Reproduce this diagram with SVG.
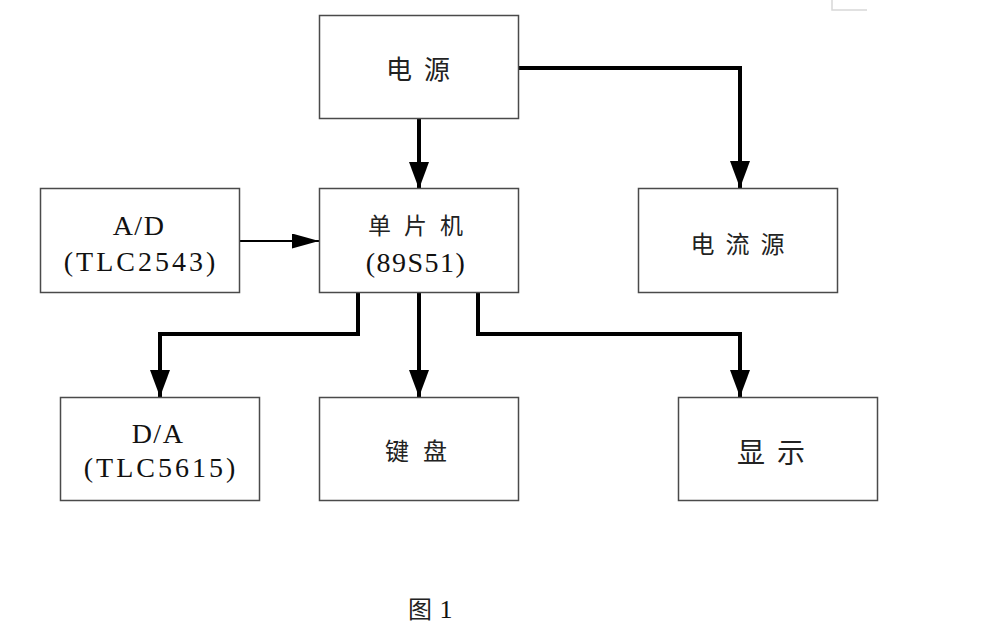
<svg xmlns="http://www.w3.org/2000/svg" width="1000" height="625" viewBox="0 0 1000 625">
<style>
.box{fill:#fff;stroke:#4a4a4a;stroke-width:1.5}
.cjk{font-family:"Noto Sans CJK SC","Noto Sans CJK JP",sans-serif;fill:#222;text-anchor:middle;dominant-baseline:central}
.lat{font-family:"Liberation Serif",serif;fill:#111;text-anchor:middle;font-size:28px}
.thick{fill:none;stroke:#000;stroke-width:4;marker-end:url(#ah)}
.thin{fill:none;stroke:#000;stroke-width:2;marker-end:url(#ahs)}
</style>
<defs>
<marker id="ah" markerUnits="userSpaceOnUse" markerWidth="28" markerHeight="22" refX="27" refY="10" orient="auto">
<path d="M0,0 L27,10 L0,20 z" fill="#000"/>
</marker>
<marker id="ahs" markerUnits="userSpaceOnUse" markerWidth="28" markerHeight="16" refX="27" refY="7.5" orient="auto">
<path d="M0,0 L27,7.5 L0,15 z" fill="#000"/>
</marker>
</defs>
<rect width="1000" height="625" fill="#fff"/>
<polyline points="832,0 832,10 867,10" fill="none" stroke="#d8d8d8" stroke-width="1.5"/>
<g id="connectors">
<path class="thick" d="M419,119 V189"/>
<path class="thick" d="M519,68 H740 V188"/>
<path class="thin" d="M240,241 H319"/>
<path class="thick" d="M358,293 V334 H160 V397"/>
<path class="thick" d="M419,293 V397"/>
<path class="thick" d="M478,293 V334 H740 V397"/>
</g>
<g id="power">
<rect class="box" x="319.5" y="15.5" width="199" height="103"/>
<text class="cjk" x="424" y="67" font-size="26" letter-spacing="12">电源</text>
</g>
<g id="mcu">
<rect class="box" x="319.5" y="188.5" width="199" height="104"/>
<text class="cjk" x="422" y="224" font-size="23" letter-spacing="13">单片机</text>
<text class="lat" x="416" y="272" letter-spacing="1.5">(89S51)</text>
</g>
<g id="adc">
<rect class="box" x="40.5" y="188.5" width="199" height="104"/>
<text class="lat" x="139" y="235" letter-spacing="1.5">A/D</text>
<text class="lat" x="141" y="271" letter-spacing="3">(TLC2543)</text>
</g>
<g id="current">
<rect class="box" x="638.5" y="188.5" width="199" height="104"/>
<text class="cjk" x="743" y="242" font-size="24" letter-spacing="11">电流源</text>
</g>
<g id="dac">
<rect class="box" x="60.5" y="397.5" width="199" height="103"/>
<text class="lat" x="158" y="443" letter-spacing="1.5">D/A</text>
<text class="lat" x="161" y="477" letter-spacing="3">(TLC5615)</text>
</g>
<g id="keyboard">
<rect class="box" x="319.5" y="397.5" width="199" height="103"/>
<text class="cjk" x="423" y="449" font-size="24" letter-spacing="14">键盘</text>
</g>
<g id="display">
<rect class="box" x="678.5" y="397.5" width="199" height="103"/>
<text class="cjk" x="777" y="451" font-size="28" letter-spacing="12">显示</text>
</g>
<g id="caption">
<text class="cjk" x="420" y="607" font-size="24">图</text>
<text class="lat" x="446" y="618" style="font-size:26px">1</text>
</g>
</svg>
